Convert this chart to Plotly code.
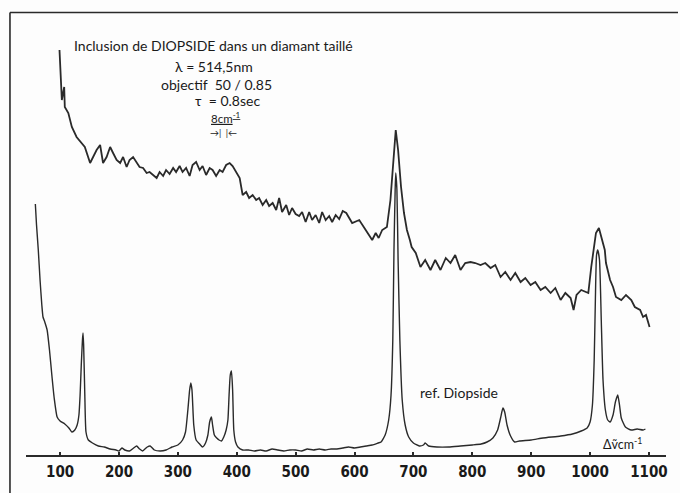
import plotly.graph_objects as go

# Wavenumber (cm-1) and intensity (arbitrary units)
inclusion_wn = [99, 103, 107, 108, 114, 120, 128, 137, 142, 151, 156, 162, 168, 173, 179, 185, 190, 196,
                202, 207, 213, 218, 224, 230, 235, 241, 247, 252, 258, 264, 269, 275, 280, 286, 292, 297,
                303, 308, 314, 320, 325, 331, 337, 342, 348, 354, 359, 365, 371, 376, 382, 388, 393, 399,
                405, 410, 416, 421, 427, 433, 438, 444, 450, 455, 461, 467, 472, 477, 484, 489, 494, 500,
                506, 511, 517, 523, 528, 534, 540, 545, 551, 557, 562, 568, 574, 580, 586, 596, 608, 619,
                630, 636, 641, 647, 655, 661, 667, 670, 674, 679, 684, 689, 694, 697, 704, 712, 720, 729,
                737, 746, 755, 763, 771, 780, 788, 797, 805, 814, 822, 831, 839, 848, 856, 865, 873, 882,
                890, 899, 907, 916, 924, 933, 941, 950, 958, 967, 972, 977, 985, 997, 1002, 1007, 1010,
                1015, 1019, 1025, 1027, 1034, 1039, 1044, 1053, 1061, 1070, 1076, 1085, 1090, 1095, 1101]
inclusion_int = [406, 356, 369, 349, 343, 329, 319, 313, 309, 293, 299, 306, 311, 293, 299, 309, 303, 296,
                 293, 299, 289, 296, 299, 293, 289, 288, 283, 284, 281, 278, 284, 280, 286, 282, 288, 284,
                 290, 284, 288, 280, 291, 294, 286, 290, 281, 288, 286, 280, 286, 284, 291, 293, 290, 284,
                 278, 261, 264, 258, 261, 256, 258, 251, 256, 250, 253, 246, 258, 244, 251, 241, 248, 242,
                 240, 244, 234, 244, 236, 241, 233, 244, 236, 240, 234, 241, 237, 245, 243, 233, 236, 226,
                 216, 223, 218, 226, 229, 256, 306, 326, 306, 269, 243, 226, 216, 209, 203, 189, 196, 186,
                 196, 186, 198, 193, 201, 186, 193, 194, 193, 191, 193, 188, 191, 179, 184, 176, 183, 174,
                 178, 171, 174, 166, 169, 163, 168, 156, 163, 158, 146, 161, 166, 163, 189, 209, 223,
                 228, 219, 206, 193, 176, 169, 159, 156, 161, 156, 149, 146, 139, 141, 129]

reference_wn = [58, 60, 63, 66, 69, 71, 74, 78, 82, 86, 90, 95, 100, 108, 115, 120, 125, 129, 132, 134, 136,
                138, 139, 140, 142, 144, 148, 155, 165, 175, 185, 195, 200, 205, 210, 218, 225, 230, 235,
                240, 248, 253, 260, 270, 280, 290, 300, 308, 313, 317, 320, 322, 324, 327, 331, 337, 342,
                347, 351, 354, 357, 359, 362, 366, 370, 374, 378, 382, 385, 387, 389, 391, 393, 395, 398,
                402, 410, 420, 430, 440, 450, 460, 470, 480, 490, 500, 510, 520, 530, 540, 550, 560, 570,
                580, 590, 600, 610, 620, 630, 640, 645, 652, 658, 662, 665, 667, 669, 670, 672, 674, 677,
                681, 686, 692, 700, 710, 717, 720, 726, 740, 760, 780, 800, 815, 825, 835, 843, 848, 852,
                855, 859, 865, 872, 880, 900, 920, 950, 970, 985, 995, 1000, 1004, 1007, 1009, 1011, 1013,
                1016, 1019, 1022, 1026, 1030, 1034, 1039, 1043, 1047, 1050, 1053, 1060, 1070, 1080, 1090, 1094]
reference_int = [252, 231, 206, 176, 151, 139, 134, 126, 106, 81, 58, 39, 35, 32, 28, 24, 26, 31, 41, 61, 91,
                 116, 123, 111, 61, 24, 16, 13, 10, 9, 7, 6, 5, 8, 6, 5, 8, 10, 7,
                 5, 9, 10, 6, 5, 6, 9, 11, 16, 24, 46, 66, 73, 66, 31, 16, 12, 9,
                 13, 21, 34, 39, 31, 21, 18, 16, 15, 19, 26, 36, 61, 81, 85, 66, 26, 14,
                 9, 6, 6, 5, 6, 5, 7, 6, 5, 6, 6, 5, 7, 6, 7, 6, 7, 7,
                 8, 9, 8, 9, 10, 11, 13, 14, 21, 36, 61, 116, 206, 266, 283, 266, 196, 116,
                 56, 31, 19, 13, 10, 11, 13, 10, 9, 9, 10, 11, 12, 14, 18, 26, 38, 48,
                 44, 31, 20, 14, 15, 16, 18, 20, 22, 25, 28, 34, 51, 96, 156, 201, 206,
                 196, 136, 76, 46, 36, 34, 41, 54, 61, 51, 38, 29, 26, 27, 26, 27]

tick_values = [100, 200, 300, 400, 500, 600, 700, 800, 900, 1000, 1100]
tick_labels = ["100", "200", "300", "400", "500", "600", "700", "800", "900", "1000", "1100"]

W, H = 680, 493
ink = "#2a2a2a"
hand_font = "Lato, 'Open Sans', 'DejaVu Sans', sans-serif"
tick_font = "'Liberation Sans Narrow', 'DejaVu Sans Condensed', 'Roboto Condensed', sans-serif"

fig = go.Figure()
fig.add_trace(go.Scatter(x=inclusion_wn, y=inclusion_int, mode="lines",
                         line=dict(color=ink, width=1.8), hoverinfo="skip"))
fig.add_trace(go.Scatter(x=reference_wn, y=reference_int, mode="lines",
                         line=dict(color=ink, width=1.4, shape="spline", smoothing=0.5), hoverinfo="skip"))

fig.update_layout(
    width=W, height=H,
    margin=dict(l=0, r=0, t=0, b=0),
    paper_bgcolor="#fdfdfd", plot_bgcolor="rgba(0,0,0,0)",
    showlegend=False,
    xaxis=dict(domain=[26 / W, 668 / W], range=[42, 1129], anchor="free", position=37 / H,
               showline=True, linecolor=ink, linewidth=1.5, showgrid=False, zeroline=False,
               ticks="inside", ticklen=3, tickwidth=1.5, tickcolor=ink,
               tickvals=tick_values, ticktext=tick_labels,
               tickfont=dict(family=tick_font, size=15, color="#1a1a1a", weight="bold"),
               ticklabelstandoff=2),
    yaxis=dict(domain=[0, 1], range=[-37, 456], visible=False),
)

# frame of the original sheet (top and left edges)
fig.add_shape(type="line", xref="paper", yref="paper", x0=10 / W, x1=1, y0=1 - 12.5 / H, y1=1 - 12.5 / H,
              line=dict(color=ink, width=1.6))
fig.add_shape(type="line", xref="paper", yref="paper", x0=10 / W, x1=10 / W, y0=0, y1=1 - 12.5 / H,
              line=dict(color=ink, width=1.6))

def note(text, x, y, size, anchor="center"):
    fig.add_annotation(text=text, xref="paper", yref="paper", x=x / W, y=1 - y / H,
                       xanchor=anchor, yanchor="middle", showarrow=False, borderpad=0,
                       font=dict(family=hand_font, size=size, color="#1a1a1a"))

note("Inclusion de DIOPSIDE dans un diamant taillé", 214, 45, 14)
note("λ = 514,5nm", 215, 66, 14)
note("objectif  50 / 0.85", 217, 84, 14)
note("τ  = 0.8sec", 228, 100, 14)
note("<u>8cm<sup>-1</sup></u>", 227, 118, 11.5)
note("→|  |←", 224, 132, 9)
note("ref. Diopside", 460, 392, 14)
note("Δ\u1E7Dcm<sup>-1</sup>", 624, 443, 12.5)

fig.write_html("out.html")
